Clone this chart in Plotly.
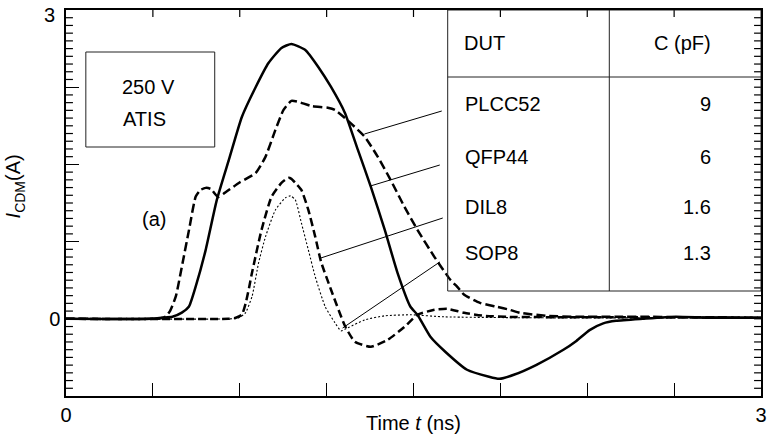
import plotly.graph_objects as go

# ---------------- data ----------------
# long-dash curve with early bump (PLCC52 leader)
plcc52_t = [0, 0.38, 0.41, 0.431, 0.45, 0.474, 0.503, 0.531, 0.56, 0.581, 0.603, 0.625, 0.656, 0.68,
            0.746, 0.819, 0.861, 0.904, 0.939, 0.973, 1.003, 1.059, 1.13, 1.161, 1.204, 1.29, 1.346,
            1.401, 1.461, 1.517, 1.59, 1.659, 1.689, 1.719, 1.787, 1.86, 1.916, 1.959, 2.074, 2.203,
            2.374, 2.503, 2.631, 2.8, 3.0]
plcc52_i = [0, 0, 0.005, 0.022, 0.08, 0.217, 0.54, 0.864, 1.187, 1.252, 1.272, 1.262, 1.184, 1.215,
            1.32, 1.417, 1.573, 1.835, 2.029, 2.117, 2.107, 2.068, 2.05, 2.029, 1.951, 1.767, 1.573,
            1.35, 1.087, 0.864, 0.602, 0.379, 0.311, 0.233, 0.155, 0.117, 0.087, 0.058, 0.029, 0.019,
            0.02, 0.02, 0.015, 0.015, 0.01]

# solid curve (QFP44 leader)
qfp44_t = [0, 0.36, 0.416, 0.459, 0.5, 0.531, 0.56, 0.603, 0.651, 0.703, 0.759, 0.819, 0.874, 0.93,
           0.973, 1.033, 1.089, 1.144, 1.204, 1.26, 1.316, 1.376, 1.431, 1.487, 1.517, 1.573, 1.637,
           1.731, 1.826, 1.87, 1.933, 2.031, 2.147, 2.203, 2.26, 2.319, 2.374, 2.49, 2.631, 2.773, 3.0]
qfp44_i = [0, 0, 0.01, 0.02, 0.06, 0.12, 0.314, 0.67, 1.155, 1.544, 1.961, 2.252, 2.485, 2.631,
           2.67, 2.612, 2.447, 2.252, 2.0, 1.641, 1.282, 0.864, 0.447, 0.117, 0.039, -0.175, -0.32,
           -0.495, -0.563, -0.583, -0.544, -0.447, -0.301, -0.215, -0.11, -0.045, -0.02, 0, 0.02, 0.01, 0.01]

# short-dash curve (DIL8 leader)
dil8_t = [0, 0.7, 0.733, 0.759, 0.776, 0.79, 0.801, 0.844, 0.887, 0.93, 0.96, 0.973, 0.99, 1.016,
          1.046, 1.076, 1.101, 1.144, 1.204, 1.247, 1.316, 1.389, 1.461, 1.517, 1.59, 1.646, 1.719,
          1.804, 1.903, 2.2, 2.6, 3.0]
dil8_i = [0, 0, 0.01, 0.039, 0.155, 0.3, 0.427, 0.864, 1.184, 1.32, 1.369, 1.359, 1.32, 1.252,
          1.058, 0.796, 0.553, 0.282, -0.068, -0.223, -0.272, -0.204, -0.078, 0.039, 0.087, 0.097,
          0.058, 0.029, 0.019, 0.015, 0.015, 0.01]

# dotted curve (SOP8 leader)
sop8_t = [0, 0.716, 0.746, 0.774, 0.803, 0.831, 0.861, 0.904, 0.947, 0.969, 0.99, 1.016, 1.046,
          1.076, 1.119, 1.161, 1.187, 1.217, 1.29, 1.376, 1.487, 1.633, 2.0, 3.0]
sop8_i = [0, 0, 0.01, 0.055, 0.217, 0.54, 0.796, 1.058, 1.175, 1.194, 1.155, 0.932, 0.67,
          0.408, 0.117, -0.039, -0.117, -0.087, -0.01, 0.029, 0.039, 0.019, 0.01, 0.01]

dut_names = ["PLCC52", "QFP44", "DIL8", "SOP8"]
dut_caps = ["9", "6", "1.6", "1.3"]

x_range = [0, 3]
y_range = [-0.75, 3]
x_major = [0, 0.375, 0.75, 1.125, 1.5, 1.875, 2.25, 2.625, 3]
x_labels = ["0", "", "", "", "", "", "", "", "3"]
y_major = [-0.75, 0, 0.75, 1.5, 2.25, 3]
y_labels = ["", "0", "", "", "", ""]
y_minor_step = 0.075
y_minor = [round(y_range[0] + k * y_minor_step, 4) for k in range(51)]

# ---------------- layout geometry (pixels) ----------------
W, H = 772, 438
L, R, T, B = 66, 5, 10, 42
PW, PH = W - L - R, H - T - B


def dx(px):  # pixel -> data x
    return x_range[0] + (px - L) / PW * (x_range[1] - x_range[0])


def dy(py):  # pixel -> data y
    return y_range[1] - (py - T) / PH * (y_range[1] - y_range[0])


FONT = "Liberation Sans, Arial, Helvetica, sans-serif"
FS = 20

fig = go.Figure()
fig.add_trace(go.Scatter(x=qfp44_t, y=qfp44_i, mode="lines", name="QFP44",
                         line=dict(color="black", width=2.5, shape="spline", smoothing=0.5)))
fig.add_trace(go.Scatter(x=plcc52_t, y=plcc52_i, mode="lines", name="PLCC52",
                         line=dict(color="black", width=2.5, dash="9px,4px", shape="spline", smoothing=0.5)))
fig.add_trace(go.Scatter(x=dil8_t, y=dil8_i, mode="lines", name="DIL8",
                         line=dict(color="black", width=2.5, dash="8px,4px", shape="spline", smoothing=0.5)))
fig.add_trace(go.Scatter(x=sop8_t, y=sop8_i, mode="lines", name="SOP8",
                         line=dict(color="black", width=1.1, dash="2px,2px", shape="spline", smoothing=0.5)))

shapes = []
line_style = dict(color="#222", width=1)
tick_style = dict(color="black", width=1.2)

# short ticks: left/right minor ticks and top ticks (length given in pixels, converted to data units)
MINOR_LEN = 7
x_left_end = dx(L + MINOR_LEN)
x_right_start = dx(L + PW - MINOR_LEN)
y_top_end = dy(T + MINOR_LEN)
for v in y_minor:
    if v <= y_range[0] or v >= y_range[1]:
        continue
    if v not in y_major:
        shapes.append(dict(type="line", xref="x", yref="y", x0=x_range[0], x1=x_left_end,
                           y0=v, y1=v, line=tick_style))
    shapes.append(dict(type="line", xref="x", yref="y", x0=x_right_start, x1=x_range[1],
                       y0=v, y1=v, line=tick_style))
for v in x_major[1:-1]:
    shapes.append(dict(type="line", xref="x", yref="y", x0=v, x1=v, y0=y_range[1], y1=y_top_end,
                       line=tick_style))

# condition box
shapes.append(dict(type="rect", xref="x", yref="y", x0=dx(86), x1=dx(216), y0=dy(147), y1=dy(52),
                   line=line_style))
# table
shapes.append(dict(type="rect", xref="x", yref="y", x0=dx(451), x1=x_range[1], y0=dy(291), y1=y_range[1],
                   line=line_style))
shapes.append(dict(type="line", xref="x", yref="y", x0=dx(451), x1=x_range[1], y0=dy(77), y1=dy(77),
                   line=line_style))
shapes.append(dict(type="line", xref="x", yref="y", x0=dx(614), x1=dx(614), y0=dy(291), y1=y_range[1],
                   line=line_style))
# leader lines
leaders = [((367, 134), (445, 111)), ((373, 186), (443, 165)),
           ((323, 258), (446, 218)), ((345, 328), (443, 262))]
for (p0, p1) in leaders:
    shapes.append(dict(type="line", xref="x", yref="y", x0=dx(p0[0]), y0=dy(p0[1]),
                       x1=dx(p1[0]), y1=dy(p1[1]), line=dict(color="black", width=1)))

ann = []


def text(s, px, py, anchor="center", size=FS, **kw):
    ann.append(dict(text=s, x=dx(px), y=dy(py), xref="x", yref="y", showarrow=False,
                    xanchor=anchor, yanchor="middle", font=dict(family=FONT, size=size, color="black"),
                    **kw))


text("250 V", 120, 87, "left")
text("ATIS", 121, 119, "left")
text("(a)", 155, 219)
text("DUT", 465, 43, "left")
text("C (pF)", 719, 43, "right")
row_y = [104, 157, 207, 253]
for name, cap, ry in zip(dut_names, dut_caps, row_y):
    text(name, 466, ry, "left")
    text(cap, 719, ry, "right")

# top y tick label "3" (placed as text so it is not hidden at the page edge)
ann.append(dict(text="3", x=(57 - L) / PW, y=(T + PH - 15) / PH, xref="paper", yref="paper",
                showarrow=False, xanchor="right", yanchor="middle",
                font=dict(family=FONT, size=FS, color="black")))

# axis titles
ann.append(dict(text="Time <i>t</i> (ns)", x=(416 - L) / PW, y=-(423 - (T + PH)) / PH, xref="paper",
                yref="paper", showarrow=False, xanchor="center", yanchor="middle",
                font=dict(family=FONT, size=FS, color="black")))
ann.append(dict(text="<i>I</i><sub>CDM</sub>(A)", x=(15 - L) / PW, y=(T + PH - 186) / PH, xref="paper",
                yref="paper", showarrow=False, xanchor="center", yanchor="middle", textangle=-90,
                font=dict(family=FONT, size=FS, color="black")))

axis_common = dict(showgrid=False, zeroline=False, linecolor="black", linewidth=1.5,
                   tickcolor="black", tickwidth=1.2, tickfont=dict(family=FONT, size=FS, color="black"))

fig.update_layout(
    width=W, height=H, margin=dict(l=L, r=R, t=T, b=B),
    paper_bgcolor="white", plot_bgcolor="white", showlegend=False,
    shapes=shapes, annotations=ann,
    xaxis=dict(range=x_range, showline=True, mirror=True, ticks="inside", ticklen=13,
               tickmode="array", tickvals=x_major, ticktext=x_labels, **axis_common),
    yaxis=dict(range=y_range, showline=True, mirror=True, ticks="inside", ticklen=13,
               tickmode="array", tickvals=y_major, ticktext=y_labels, **axis_common),
)

fig.write_html("out.html")
